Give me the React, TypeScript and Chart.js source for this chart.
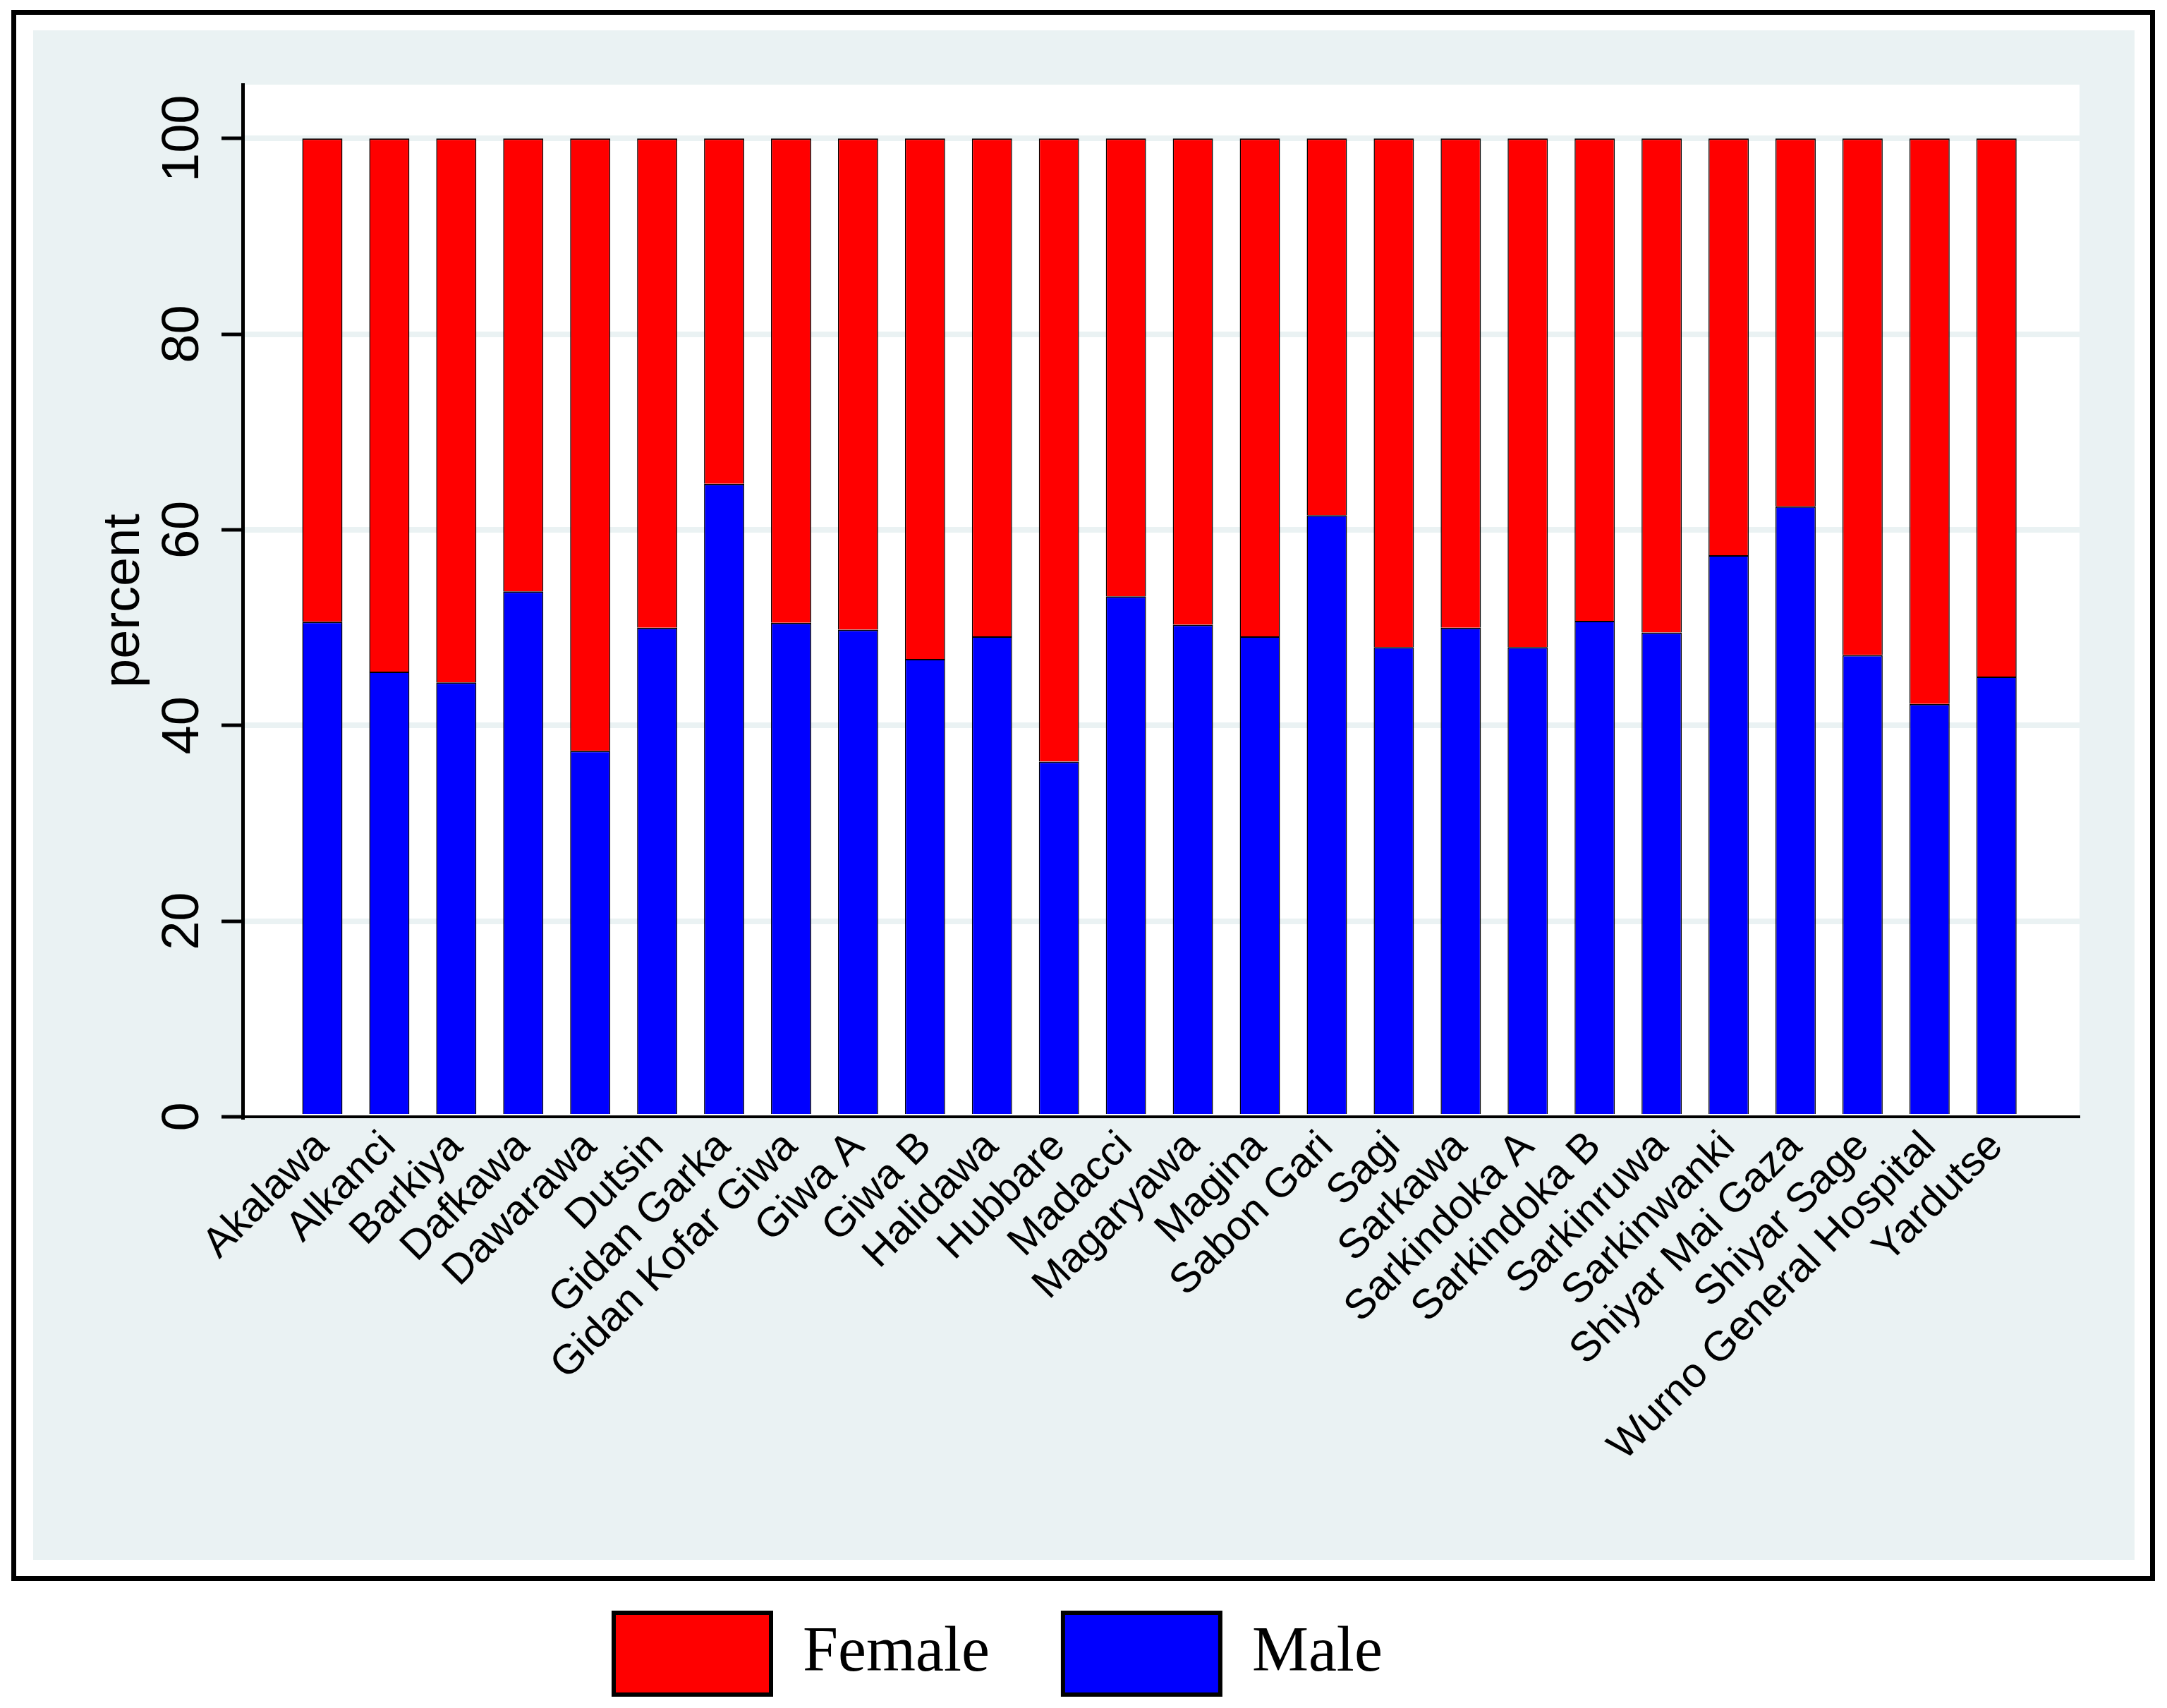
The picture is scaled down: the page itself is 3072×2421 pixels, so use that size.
import React, { useEffect, useRef } from 'react';
import { Chart, registerables } from 'chart.js';

Chart.register(...registerables);

// wards, in the order they appear on the x axis
const wards = [
  'Akalawa', 'Alkanci', 'Barkiya', 'Dafkawa', 'Dawarawa', 'Dutsin', 'Gidan Garka',
  'Gidan Kofar Giwa', 'Giwa A', 'Giwa B', 'Halidawa', 'Hubbare', 'Madacci', 'Magaryawa',
  'Magina', 'Sabon Gari', 'Sagi', 'Sarkawa', 'Sarkindoka A', 'Sarkindoka B', 'Sarkinruwa',
  'Sarkinwanki', 'Shiyar Mai Gaza', 'Shiyar Sage', 'Wurno General Hospital', 'Yardutse',
];

// percent of respondents
const malePct = [
  50.6, 45.5, 44.4, 53.7, 37.4, 50.0, 64.7, 50.5, 49.8, 46.8, 49.1, 36.3, 53.2,
  50.3, 49.1, 61.5, 48.0, 50.0, 48.0, 50.7, 49.5, 57.4, 62.4, 47.2, 42.2, 45.0,
];
const femalePct = [
  49.4, 54.5, 55.6, 46.3, 62.6, 50.0, 35.3, 49.5, 50.2, 53.2, 50.9, 63.7, 46.8,
  49.7, 50.9, 38.5, 52.0, 50.0, 52.0, 49.3, 50.5, 42.6, 37.6, 52.8, 57.8, 55.0,
];

const yTicks = [0, 20, 40, 60, 80, 100];

const SANS = "'Liberation Sans', Arial, sans-serif";
const SERIF = "'Liberation Serif', 'Times New Roman', serif";
const BG = '#EAF2F3';

// stata-like graph region: outer black frame, light bluish-gray fill, white plot region
const framePlugin = {
  id: 'stataFrame',
  beforeDraw(chart: any) {
    const { ctx, chartArea } = chart;
    ctx.save();
    ctx.fillStyle = '#ffffff';
    ctx.fillRect(0, 0, chart.width, chart.height);
    ctx.strokeStyle = '#000000';
    ctx.lineWidth = 7;
    ctx.strokeRect(19.5, 17.5, 3032, 2220);
    ctx.fillStyle = BG;
    ctx.fillRect(47, 43, 2979, 2168);
    ctx.fillStyle = '#ffffff';
    ctx.fillRect(chartArea.left, chartArea.top, chartArea.right - chartArea.left, chartArea.bottom - chartArea.top);
    ctx.restore();
  },
  afterLayout(chart: any) {
    // legend sits under the frame, left of centre
    const lg = chart.legend;
    if (lg) {
      lg.left = 766;
      lg.top = 2182;
    }
  },
};

export default function App() {
  const canvasRef = useRef<HTMLCanvasElement>(null);

  useEffect(() => {
    document.body.style.margin = '0';
    if (!canvasRef.current) return;

    const chart = new Chart(canvasRef.current, {
      type: 'bar',
      data: {
        datasets: [
          {
            label: 'Male',
            data: malePct.map((v, i) => ({ x: i + 1, y: v })),
            backgroundColor: '#0000FF',
            borderColor: '#000000',
            borderWidth: { top: 2, left: 1.5, right: 1.5, bottom: 0 },
            borderSkipped: false,
            stack: 'sex',
            barPercentage: 0.6,
            categoryPercentage: 1,
          },
          {
            label: 'Female',
            data: femalePct.map((v, i) => ({ x: i + 1, y: v })),
            backgroundColor: '#FF0000',
            borderColor: '#000000',
            borderWidth: { top: 2, left: 1.5, right: 1.5, bottom: 0 },
            borderSkipped: false,
            stack: 'sex',
            barPercentage: 0.6,
            categoryPercentage: 1,
          },
        ],
      },
      options: {
        responsive: true,
        maintainAspectRatio: false,
        animation: false,
        layout: { padding: { left: 60, top: 120, right: 124, bottom: 0 } },
        plugins: {
          tooltip: { enabled: false },
          legend: {
            position: 'bottom',
            align: 'start',
            onClick: () => {},
            labels: {
              boxWidth: 223,
              boxHeight: 116,
              padding: 104,
              color: '#000000',
              font: { family: SERIF, size: 90 },
              generateLabels: () => [
                { text: 'Female', fillStyle: '#FF0000', strokeStyle: '#000000', lineWidth: 6, hidden: false, datasetIndex: 1 },
                { text: 'Male', fillStyle: '#0000FF', strokeStyle: '#000000', lineWidth: 6, hidden: false, datasetIndex: 0 },
              ],
            },
          },
        },
        scales: {
          x: {
            type: 'linear',
            min: -0.19,
            max: 27.24,
            offset: false,
            afterBuildTicks: (s: any) => {
              s.ticks = wards.map((_, i) => ({ value: i + 1 }));
            },
            afterFit: (s: any) => {
              s.height = 608;
            },
            grid: { display: false, drawTicks: false, offset: false },
            border: { display: true, color: '#000000', width: 4 },
            ticks: {
              autoSkip: false,
              minRotation: 45,
              maxRotation: 45,
              padding: 8,
              color: '#000000',
              font: { family: SANS, size: 59 },
              callback: (v: any) => wards[Math.round(Number(v)) - 1] ?? '',
            },
          },
          y: {
            min: 0,
            max: 105.5,
            stacked: true,
            afterBuildTicks: (s: any) => {
              s.ticks = yTicks.map((v) => ({ value: v }));
            },
            afterFit: (s: any) => {
              s.width = 284;
            },
            grid: {
              color: (c: any) => (c.tick && c.tick.value === 0 ? 'rgba(0,0,0,0)' : BG),
              lineWidth: 8,
              drawTicks: true,
              tickLength: 30,
              tickColor: '#000000',
              tickWidth: 5,
            },
            border: { display: true, color: '#000000', width: 5 },
            ticks: {
              minRotation: 90,
              maxRotation: 90,
              crossAlign: 'center',
              padding: -8,
              color: '#000000',
              font: { family: SANS, size: 74 },
            },
            title: {
              display: true,
              text: 'percent',
              color: '#000000',
              font: { family: SANS, size: 74 },
              padding: { top: 72, bottom: 0 },
            },
          },
        },
      },
      plugins: [framePlugin],
    } as any);

    return () => chart.destroy();
  }, []);

  return (
    <div style={{ width: 3072, height: 2421, position: 'relative' }}>
      <canvas ref={canvasRef} />
    </div>
  );
}
